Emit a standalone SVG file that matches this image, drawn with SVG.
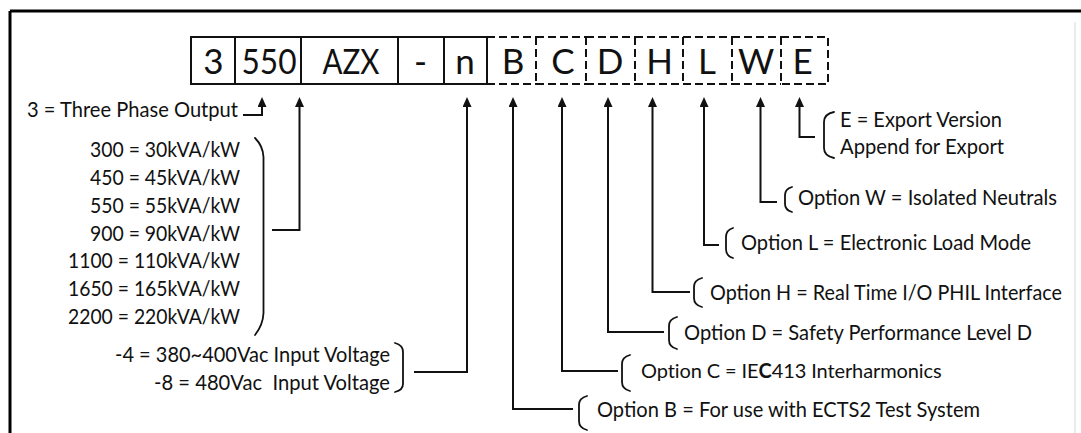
<svg xmlns="http://www.w3.org/2000/svg" width="1081" height="433" viewBox="0 0 1081 433">
<style>
.frame{stroke:#000;stroke-width:3;fill:none}
.faint{stroke:#e4e4e4;stroke-width:1.5;fill:none}
.box{stroke:#111;stroke-width:2;fill:none}
.dash{stroke:#111;stroke-width:2;fill:none;stroke-dasharray:8 4}
.code{font-family:Lato,"Liberation Sans",sans-serif;font-size:35px;fill:#111;text-anchor:middle}
.lbl{font-family:Lato,"Liberation Sans",sans-serif;font-size:20.5px;fill:#111}
.end{text-anchor:end}
.con{stroke:#111;stroke-width:2;fill:none}
.arr{marker-end:url(#ah)}
.brace{stroke:#111;stroke-width:1.8;fill:none;stroke-linecap:round}
</style>
<defs>
<marker id="ah" markerUnits="userSpaceOnUse" markerWidth="11" markerHeight="9" refX="6" refY="4.5" orient="auto">
<path d="M0,0 L10,4.5 L0,9 Z" fill="#111"/>
</marker>
</defs>
<rect width="1081" height="433" fill="#fff"/>
<g id="frame">
<path class="frame" d="M10,11 H1081 M10,11 V433"/>
<path class="faint" d="M1075,22 V433"/>
</g>
<g id="code">
<g id="seg-3"><rect class="box" x="191" y="37" width="44" height="47"/><text class="code" x="213.5" y="74">3</text></g>
<g id="seg-550"><rect class="box" x="235" y="37" width="66" height="47"/><text class="code" x="269" y="74" textLength="55" lengthAdjust="spacingAndGlyphs">550</text></g>
<g id="seg-AZX"><rect class="box" x="301" y="37" width="97" height="47"/><text class="code" x="351" y="74" textLength="57" lengthAdjust="spacingAndGlyphs">AZX</text></g>
<g id="seg-dash"><rect class="box" x="398" y="37" width="46" height="47"/><text class="code" x="420.5" y="74">-</text></g>
<g id="seg-n"><rect class="box" x="444" y="37" width="43" height="47"/><text class="code" x="465" y="74">n</text></g>
<g id="seg-B"><path class="dash" d="M487,37 H536 M487,84 H536"/><text class="code" x="513" y="74">B</text></g>
<g id="seg-C"><path class="dash" d="M536,37 V84 M536,37 H586 M536,84 H586"/><text class="code" x="563" y="74">C</text></g>
<g id="seg-D"><path class="dash" d="M586,37 V84 M586,37 H635 M586,84 H635"/><text class="code" x="610" y="74">D</text></g>
<g id="seg-H"><path class="dash" d="M635,37 V84 M635,37 H683 M635,84 H683"/><text class="code" x="659.5" y="74">H</text></g>
<g id="seg-L"><path class="dash" d="M683,37 V84 M683,37 H732 M683,84 H732"/><text class="code" x="707" y="74">L</text></g>
<g id="seg-W"><path class="dash" d="M732,37 V84 M732,37 H781 M732,84 H781"/><text class="code" x="756" y="74">W</text></g>
<g id="seg-E"><path class="dash" d="M781,37 V84 M781,37 H828 V84 H781"/><text class="code" x="802.5" y="74">E</text></g>
</g>
<g id="label-phase">
<text class="lbl" x="27" y="117" textLength="211" lengthAdjust="spacingAndGlyphs">3 = Three Phase Output</text>
</g>
<g id="label-power">
<text class="lbl end" x="240" y="157" textLength="150" lengthAdjust="spacingAndGlyphs">300 = 30kVA/kW</text>
<text class="lbl end" x="240" y="185" textLength="150" lengthAdjust="spacingAndGlyphs">450 = 45kVA/kW</text>
<text class="lbl end" x="240" y="213" textLength="150" lengthAdjust="spacingAndGlyphs">550 = 55kVA/kW</text>
<text class="lbl end" x="240" y="241" textLength="150" lengthAdjust="spacingAndGlyphs">900 = 90kVA/kW</text>
<text class="lbl end" x="240" y="268" textLength="172" lengthAdjust="spacingAndGlyphs">1100 = 110kVA/kW</text>
<text class="lbl end" x="240" y="296" textLength="172" lengthAdjust="spacingAndGlyphs">1650 = 165kVA/kW</text>
<text class="lbl end" x="240" y="324" textLength="172" lengthAdjust="spacingAndGlyphs">2200 = 220kVA/kW</text>
<path class="brace" d="M255,138 Q263,146 263.5,157 L263.5,313 Q263,325 255,335"/>
</g>
<g id="label-voltage">
<text class="lbl" x="115" y="362" textLength="275" lengthAdjust="spacingAndGlyphs">-4 = 380~400Vac Input Voltage</text>
<text class="lbl" x="154" y="390" textLength="236" lengthAdjust="spacingAndGlyphs" xml:space="preserve">-8 = 480Vac  Input Voltage</text>
<path class="brace" d="M395,343 Q403,345 403,352 L403,384 Q403,390 395,392"/>
</g>
<g id="label-E">
<text class="lbl" x="840" y="127" textLength="162" lengthAdjust="spacingAndGlyphs">E = Export Version</text>
<text class="lbl" x="840" y="154" textLength="164" lengthAdjust="spacingAndGlyphs">Append for Export</text>
<path class="brace" d="M834,112 Q824,114 824,122 L824,148 Q824,156 834,158"/>
</g>
<g id="label-W">
<text class="lbl" x="798" y="205" textLength="259" lengthAdjust="spacingAndGlyphs">Option W = Isolated Neutrals</text>
<path class="brace" d="M792,187 Q785,189 785,195 L785,204 Q785,210 792,212"/>
</g>
<g id="label-L">
<text class="lbl" x="741" y="250" textLength="290" lengthAdjust="spacingAndGlyphs">Option L = Electronic Load Mode</text>
<path class="brace" d="M733,228 Q726,230 726,237 L726,249 Q726,256 733,258"/>
</g>
<g id="label-H">
<text class="lbl" x="710" y="300" textLength="352" lengthAdjust="spacingAndGlyphs">Option H = Real Time I/O PHIL Interface</text>
<path class="brace" d="M702,278 Q694,280 694,287 L694,298 Q694,305 702,307"/>
</g>
<g id="label-D">
<text class="lbl" x="684" y="340" textLength="348" lengthAdjust="spacingAndGlyphs">Option D = Safety Performance Level D</text>
<path class="brace" d="M677,317 Q669,319 669,326 L669,340 Q669,347 677,349"/>
</g>
<g id="label-C">
<text class="lbl" x="641" y="378" style="font-size:20px;letter-spacing:-0.1px">Option C = IE<tspan font-weight="bold">C</tspan>413 Interharmonics</text>
<path class="brace" d="M630,355 Q622,357 622,364 L622,382 Q622,389 630,391"/>
</g>
<g id="label-B">
<text class="lbl" x="597" y="417" textLength="383" lengthAdjust="spacingAndGlyphs">Option B = For use with ECTS2 Test System</text>
<path class="brace" d="M587,396 Q579,398 579,405 L579,421 Q579,428 587,430"/>
</g>
<g id="connectors">
<path class="con arr" d="M243,115 H262 V101"/>
<path class="con arr" d="M272,230 H299.5 V101"/>
<path class="con arr" d="M414,372 H467 V101"/>
<path class="con arr" d="M573,409 H513 V101"/>
<path class="con arr" d="M618,371 H562 V101"/>
<path class="con arr" d="M664,332 H608 V101"/>
<path class="con arr" d="M690,292 H652.5 V101"/>
<path class="con arr" d="M719,245 H704 V101"/>
<path class="con arr" d="M777,202 H760.5 V101"/>
<path class="con arr" d="M815,137 H799.5 V101"/>
</g>
</svg>
